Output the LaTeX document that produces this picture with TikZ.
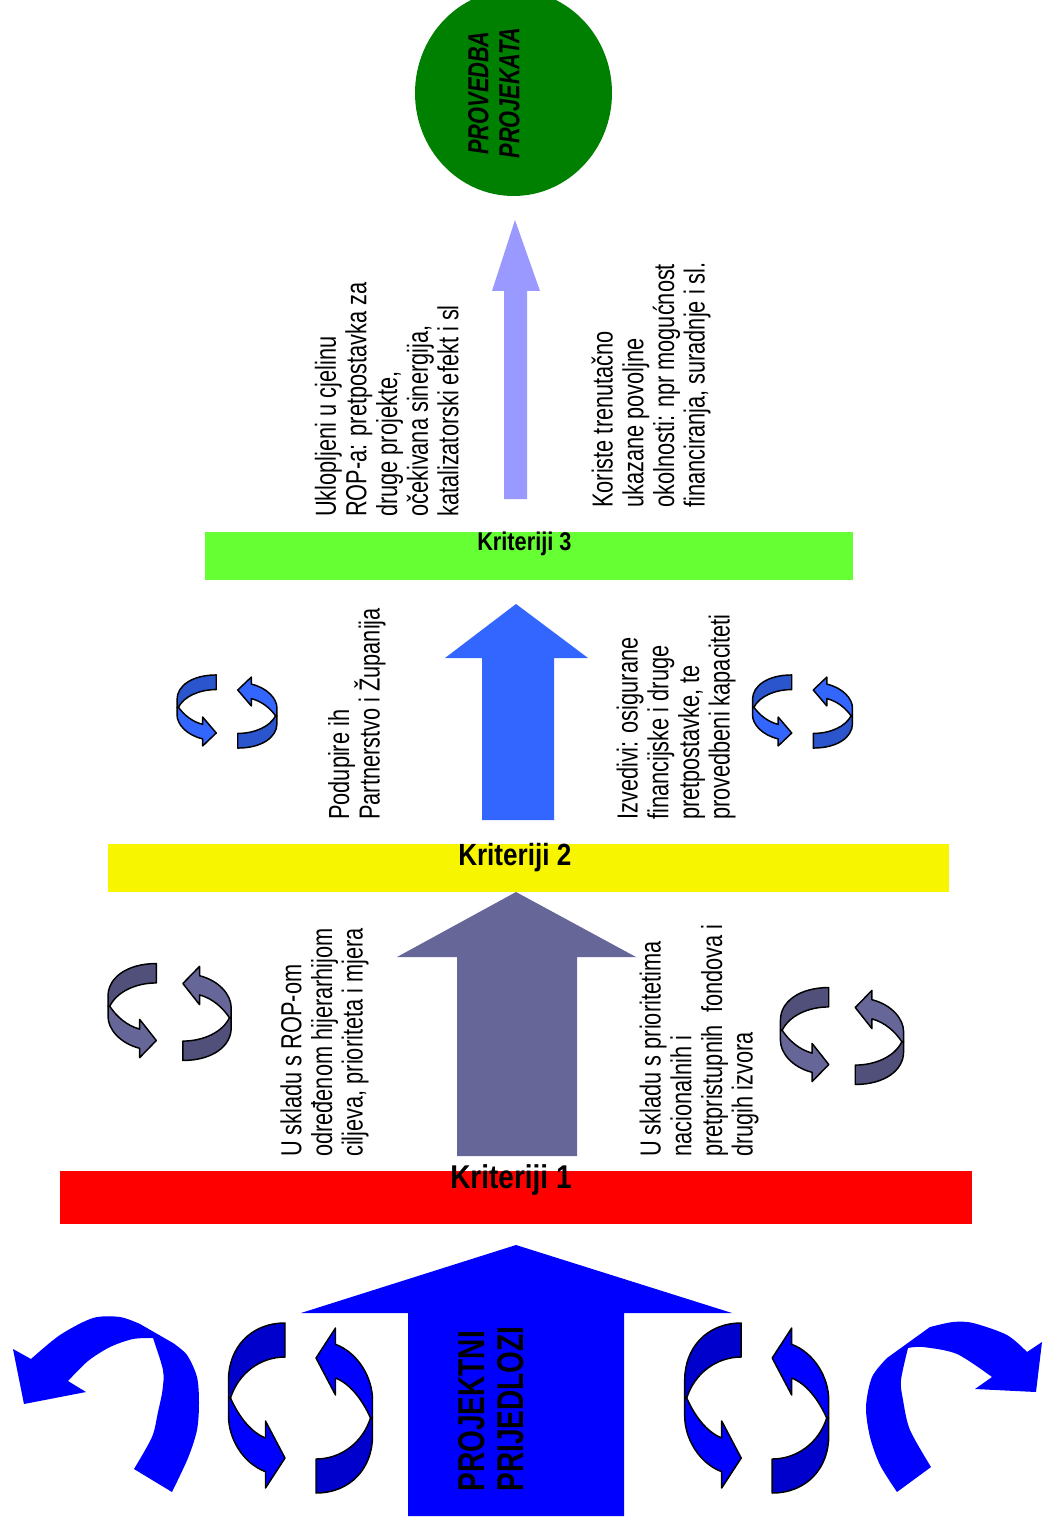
\documentclass[tikz,border=0pt]{standalone}
\usepackage{fontspec}
\setmainfont[FakeStretch=0.75]{Liberation Sans}
\newfontfamily\kritfont[FakeStretch=0.85]{Liberation Sans}
\definecolor{arrowblue}{HTML}{0000FF}
\definecolor{arrowdeep}{HTML}{0000CC}
\definecolor{arrowslate}{HTML}{666699}
\definecolor{slatedeep}{HTML}{50507A}
\definecolor{arrowmid}{HTML}{3366FF}
\definecolor{middeep}{HTML}{2A55CC}
\definecolor{arrowpale}{HTML}{9999FF}
\definecolor{krit3green}{HTML}{66FF33}
\definecolor{krit2yellow}{HTML}{F7F500}
\definecolor{goalgreen}{HTML}{008000}
\lineskiplimit=-20pt
\tikzset{
  sidetext/.style={rotate=90,anchor=south west,inner sep=0pt,align=left,
    font=\fontsize{21.75}{23}\selectfont},
  kriterij/.style={anchor=base west,inner sep=0pt},
  pics/cyclepair/.style 2 args={code={
    \foreach \turn in {0,180} {
      \begin{scope}[rotate=\turn,draw=black,line width=1.1pt,line join=round]
        \filldraw[fill=#1] (-15.5,-85) .. controls (-50,-85) and (-72,-60) .. (-72,-28)
          -- (-72,-10) -- (-70,-10) .. controls (-62,-35) and (-40,-51) .. (-15.5,-51) -- cycle;
        \filldraw[fill=#2] (-70,-10) .. controls (-62,8) and (-50,24) .. (-35,30)
          -- (-35,13) -- (-15.5,50) -- (-35,80) -- (-35,63.7)
          .. controls (-58,55) and (-72,30) .. (-72,8) -- (-72,-10) -- cycle;
      \end{scope}
    }
  }}
}
\begin{document}
\begin{tikzpicture}[x=0.75pt,y=-0.75pt]
  \useasboundingbox (0,0) rectangle (1042,1526);

  \begin{scope}
    \clip (0,0) rectangle (1042,1526);
    \fill[goalgreen] (513.5,93) ellipse [x radius=98.5,y radius=103];
  \end{scope}
  \node[rotate=90,inner sep=0pt,align=center,font=\fontsize{21.75}{23.25}\selectfont\bfseries\itshape] (provedba) at (494,93) {PROVEDBA\\PROJEKATA};

  \fill[arrowpale] (504,499) -- (504,291) -- (492,291) -- (515,220) -- (540,291) -- (527,291) -- (527,499) -- cycle;
  \fill[arrowmid] (482,820) -- (482,658) -- (445,658) -- (516,604) -- (588,658) -- (554,658) -- (554,820) -- cycle;
  \fill[arrowslate] (457,1156) -- (457,957) -- (397,957) -- (516,892) -- (636,957) -- (577,957) -- (577,1156) -- cycle;
  \fill[arrowblue] (408,1516) -- (408,1313) -- (301,1313) -- (516,1245) -- (732,1313) -- (624,1313) -- (624,1516) -- cycle;

  \fill[krit3green] (205,532) rectangle (853,580);
  \fill[krit2yellow] (108,844) rectangle (949,892);
  \fill[red] (60,1171) rectangle (972,1224);

  \node[kriterij,font=\kritfont\bfseries\fontsize{19.2}{22}\selectfont] (krit3) at (477,550) {Kriteriji 3};
  \node[kriterij,font=\kritfont\bfseries\fontsize{23}{26}\selectfont] (krit2) at (458,865) {Kriteriji 2};
  \node[kriterij,font=\kritfont\bfseries\fontsize{24.7}{28}\selectfont] (krit1) at (450,1188) {Kriteriji 1};

  \node[sidetext] (uklopljeni) at (459,517) {Uklopljeni u cjelinu\\ROP-a: pretpostavka za\\druge projekte,\\očekivana sinergija,\\katalizatorski efekt i sl};
  \node[sidetext] (koriste) at (711,508) {Koriste trenutačno\\ukazane povoljne\\okolnosti: npr mogućnost\\financiranja, suradnje i sl.};
  \node[sidetext] (podupire) at (386,820) {Podupire ih\\Partnerstvo i Županija};
  \node[sidetext] (izvedivi) at (736,820) {Izvedivi: osigurane\\financijske i druge\\pretpostavke, te\\provedbeni kapaciteti};
  \node[sidetext] (hijerarhija) at (369,1157) {U skladu s ROP-om\\određenom hijerarhijom\\ciljeva, prioriteta i mjera};
  \node[sidetext] (prioriteti) at (759,1157) {U skladu s prioritetima\\nacionalnih i\\pretpristupnih\ \ fondova i\\drugih izvora};

  \node[rotate=90,anchor=south west,inner sep=0pt,align=left,font=\fontsize{28}{29.5}\selectfont\bfseries] (prijedlozi) at (524.5,1491.5) {PROJEKTNI\\PRIJEDLOZI};

  \pic[xscale=0.694,yscale=0.43] at (227,711.5) {cyclepair={middeep}{arrowmid}};
  \pic[xscale=0.694,yscale=0.43] at (802.5,711.5) {cyclepair={middeep}{arrowmid}};
  \pic[xscale=0.855,yscale=0.57] at (169.6,1012) {cyclepair={slatedeep}{arrowslate}};
  \pic[xscale=0.855,yscale=0.57] at (842,1036) {cyclepair={slatedeep}{arrowslate}};
  \pic at (300.5,1408) {cyclepair={arrowdeep}{arrowblue}};
  \pic at (756.7,1408) {cyclepair={arrowdeep}{arrowblue}};

  \fill[arrowblue] plot[smooth] coordinates {(134,1469) (152,1437) (158,1412) (162.5,1390) (163,1370) (153,1338)}
    -- plot[smooth] coordinates {(153,1338) (133,1339) (110,1347) (88,1361) (68,1381)}
    -- (86,1392) -- (24,1404) -- (13,1349)
    -- plot[smooth] coordinates {(31,1359) (60,1335) (93,1318) (120,1317) (140,1324)}
    -- plot[smooth] coordinates {(173,1343) (187,1355) (197,1377) (199,1403) (197,1430) (188,1458) (172,1492)} -- cycle;
  \fill[arrowblue] plot[smooth] coordinates {(897,1492) (880,1465) (870,1437) (866,1407) (872,1377) (887,1358)}
    -- plot[smooth] coordinates {(930,1327) (953,1322) (973,1323) (1007,1335) (1027,1352)}
    -- (1042,1342) -- (1036,1392) -- (975,1389)
    -- plot[smooth] coordinates {(992,1377) (957,1354) (923,1347) (908,1348)}
    -- plot[smooth] coordinates {(908,1348) (901,1380) (903,1400) (910,1430) (931,1467)} -- cycle;
\end{tikzpicture}
\end{document}
